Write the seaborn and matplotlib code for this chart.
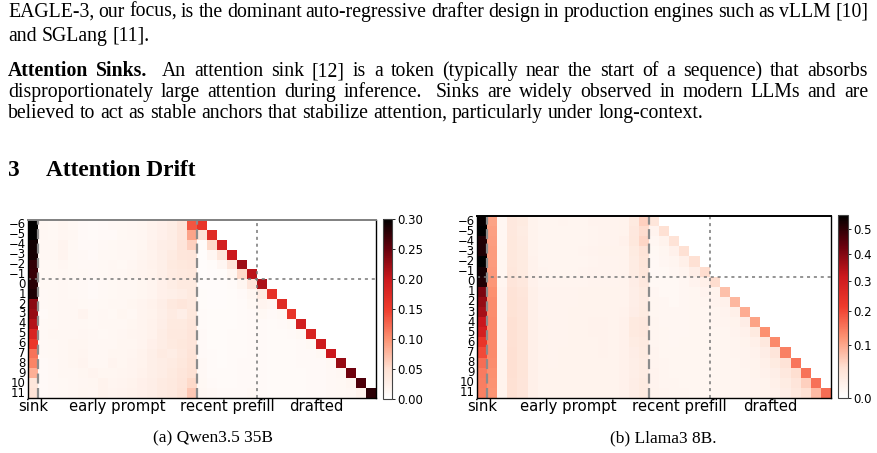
import numpy as np
import pandas as pd
import matplotlib
matplotlib.use("Agg")
import matplotlib.pyplot as plt
import seaborn as sns
from matplotlib.colors import LinearSegmentedColormap, Normalize, PowerNorm

# ---- data -------------------------------------------------------------
# query rows, relative to the first drafted token
row_pos = list(range(-6, 12))
groups = ["sink", "early prompt", "recent prefill", "drafted"]
group_width = [1, 16, 6, 12]

# attention values in units of 1e-3
# Qwen3.5 35B
qwen_sink = [300, 300, 290, 288, 275, 272, 280, 285, 232, 226, 212, 182, 155, 118, 108, 82, 40, 45]
qwen_early = [
    [14, 12, 16, 12, 10, 9, 10, 11, 12, 14, 16, 20, 24, 30, 42, 135],
    [13, 12, 15, 13, 10, 9, 10, 10, 12, 13, 15, 19, 24, 30, 40, 88],
    [14, 13, 18, 12, 10, 10, 11, 12, 13, 14, 16, 22, 28, 30, 42, 60],
    [13, 14, 18, 12, 11, 10, 12, 12, 13, 14, 17, 20, 26, 32, 40, 42],
    [12, 12, 15, 12, 11, 11, 12, 13, 12, 15, 18, 22, 26, 34, 38, 40],
    [12, 12, 14, 12, 12, 11, 12, 13, 14, 16, 18, 20, 26, 32, 36, 38],
    [12, 12, 13, 12, 11, 10, 11, 12, 13, 14, 16, 18, 24, 30, 34, 35],
    [11, 12, 14, 12, 11, 10, 11, 12, 13, 14, 16, 18, 24, 26, 30, 34],
    [11, 12, 14, 13, 12, 11, 12, 13, 14, 16, 18, 22, 28, 36, 40, 36],
    [10, 12, 13, 14, 18, 12, 13, 12, 16, 14, 18, 20, 26, 32, 28, 38],
    [11, 12, 14, 13, 14, 12, 13, 14, 14, 16, 18, 22, 28, 34, 34, 40],
    [11, 13, 14, 14, 15, 13, 12, 14, 15, 17, 18, 22, 30, 36, 36, 42],
    [11, 12, 14, 16, 16, 13, 14, 14, 16, 16, 18, 24, 30, 34, 38, 42],
    [11, 12, 13, 16, 17, 13, 14, 16, 16, 17, 20, 26, 32, 30, 36, 44],
    [10, 11, 13, 16, 18, 14, 14, 18, 16, 18, 20, 26, 30, 32, 38, 46],
    [10, 11, 13, 14, 16, 18, 16, 16, 17, 18, 22, 26, 30, 34, 40, 48],
    [10, 11, 12, 14, 15, 16, 20, 17, 18, 20, 24, 28, 32, 36, 42, 55],
    [10, 11, 12, 13, 16, 15, 20, 18, 19, 22, 24, 28, 32, 36, 44, 66],
]
# recent prefill + drafted, up to the diagonal (causal)
qwen_tail = [
    [160],
    [45, 172],
    [8, 55, 190],
    [5, 15, 40, 200],
    [5, 8, 15, 42, 222],
    [5, 6, 8, 16, 55, 208],
    [6, 6, 7, 9, 16, 40, 215],
    [8, 7, 7, 8, 10, 16, 32, 162],
    [8, 7, 7, 8, 9, 12, 18, 15, 172],
    [9, 8, 8, 8, 9, 10, 12, 10, 12, 160],
    [9, 8, 8, 8, 9, 10, 10, 9, 10, 12, 190],
    [10, 8, 8, 9, 9, 10, 10, 9, 9, 10, 12, 182],
    [10, 8, 8, 9, 9, 10, 10, 9, 9, 9, 10, 12, 195],
    [10, 9, 8, 9, 9, 10, 10, 9, 9, 9, 10, 10, 12, 200],
    [11, 9, 8, 9, 10, 10, 10, 9, 9, 9, 10, 10, 10, 12, 225],
    [11, 9, 9, 9, 10, 10, 10, 9, 9, 9, 9, 10, 10, 11, 14, 245],
    [12, 10, 9, 9, 10, 10, 10, 9, 9, 9, 9, 10, 10, 11, 12, 16, 262],
    [14, 11, 10, 10, 10, 11, 10, 9, 9, 9, 9, 10, 10, 11, 12, 14, 20, 278],
]

# Llama3 8B
llama_sink = [550, 560, 520, 520, 560, 530, 520, 410, 380, 360, 320, 295, 232, 196, 160, 145, 142, 140]
llama_early = [
    [105, 8, 30, 26, 14, 10, 10, 11, 10, 10, 12, 12, 12, 14, 28, 60],
    [108, 8, 30, 24, 14, 10, 10, 10, 10, 10, 11, 12, 12, 14, 30, 50],
    [110, 8, 32, 25, 14, 10, 10, 10, 10, 10, 11, 12, 12, 16, 32, 55],
    [112, 9, 32, 26, 14, 10, 10, 10, 10, 11, 12, 14, 14, 14, 26, 40],
    [112, 9, 32, 26, 15, 10, 10, 10, 10, 10, 11, 12, 12, 14, 24, 38],
    [115, 9, 33, 26, 15, 11, 10, 10, 10, 11, 12, 12, 12, 14, 24, 35],
    [118, 10, 36, 30, 16, 11, 11, 11, 11, 11, 12, 12, 12, 14, 22, 30],
    [125, 12, 40, 34, 18, 12, 12, 12, 12, 13, 14, 14, 13, 14, 20, 26],
    [128, 12, 42, 36, 18, 12, 12, 12, 12, 14, 14, 14, 13, 14, 20, 25],
    [128, 12, 42, 36, 18, 12, 12, 12, 13, 14, 14, 14, 14, 15, 22, 26],
    [130, 12, 44, 38, 18, 13, 12, 12, 14, 14, 15, 15, 14, 16, 28, 30],
    [130, 12, 44, 38, 18, 13, 12, 12, 14, 14, 15, 15, 14, 16, 28, 30],
    [130, 12, 45, 38, 18, 13, 12, 12, 13, 14, 14, 15, 14, 16, 24, 28],
    [130, 13, 46, 38, 18, 13, 12, 13, 13, 14, 14, 15, 14, 16, 22, 26],
    [128, 13, 46, 38, 18, 13, 12, 13, 13, 14, 14, 14, 14, 16, 20, 24],
    [125, 13, 46, 38, 18, 13, 13, 13, 13, 13, 14, 14, 14, 16, 20, 24],
    [122, 13, 44, 36, 18, 13, 13, 13, 13, 13, 14, 14, 14, 16, 22, 26],
    [120, 13, 44, 36, 18, 13, 13, 13, 13, 13, 14, 14, 14, 16, 22, 26],
]
llama_tail = [
    [35],
    [12, 45],
    [8, 14, 40],
    [7, 9, 16, 45],
    [6, 8, 10, 18, 45],
    [6, 7, 8, 11, 20, 50],
    [7, 7, 7, 8, 12, 18, 50],
    [8, 7, 7, 8, 9, 12, 14, 75],
    [9, 8, 7, 8, 9, 10, 12, 16, 85],
    [9, 8, 8, 8, 9, 9, 10, 12, 18, 95],
    [10, 8, 8, 8, 9, 9, 10, 11, 14, 22, 105],
    [10, 9, 8, 8, 9, 9, 9, 10, 12, 16, 28, 125],
    [10, 9, 8, 9, 9, 9, 9, 10, 11, 13, 18, 30, 130],
    [11, 9, 9, 9, 9, 9, 9, 10, 11, 12, 15, 22, 36, 140],
    [11, 10, 9, 9, 9, 9, 9, 10, 10, 12, 14, 18, 26, 40, 150],
    [12, 10, 9, 9, 9, 9, 9, 10, 10, 11, 13, 16, 20, 30, 48, 152],
    [12, 10, 10, 9, 9, 9, 9, 10, 10, 11, 12, 14, 18, 24, 36, 60, 155],
    [13, 11, 10, 10, 9, 9, 9, 10, 10, 11, 12, 14, 16, 22, 30, 45, 80, 160],
]

# page text around the figure
para1 = ["EAGLE-3, our focus, is the dominant auto-regressive drafter design in production engines such as vLLM [10]",
         "and SGLang [11]."]
para2_lead = "Attention Sinks."
para2 = ["An attention sink [12] is a token (typically near the start of a sequence) that absorbs",
         "disproportionately large attention during inference.  Sinks are widely observed in modern LLMs and are",
         "believed to act as stable anchors that stabilize attention, particularly under long-context."]
heading_num, heading = "3", "Attention Drift"
captions = ["(a) Qwen3.5 35B", "(b) Llama3 8B."]


def build(sink, early, tail):
    ncol = sum(group_width)
    m = np.full((len(row_pos), ncol), np.nan)
    m[:, 0] = sink
    m[:, 1:17] = early
    for i, r in enumerate(tail):
        m[i, 17:17 + len(r)] = r
    return pd.DataFrame(m / 1000.0, index=[str(r).replace("-", "\u2212") for r in row_pos])


qwen = build(qwen_sink, qwen_early, qwen_tail)
llama = build(llama_sink, llama_early, llama_tail)

# ---- figure -----------------------------------------------------------
W, H = 877, 453
fig = plt.figure(figsize=(W / 100, H / 100), dpi=100)
serif = ["Liberation Serif", "DejaVu Serif"]


def box(x0, y0, x1, y1):
    return [x0 / W, 1 - y1 / H, (x1 - x0) / W, (y1 - y0) / H]


cmap = LinearSegmentedColormap.from_list(
    "sink_reds", ["#ffffff", "#fee0d2", "#fc9272", "#ef3b2c", "#cb181d", "#67000d", "#000000"])

panels = [
    (qwen, Normalize(0, 0.30), np.arange(0, 0.31, 0.05), "%.2f",
     box(28, 220, 376, 398), box(383, 219, 392, 399), captions[0], 213, "#808080"),
    (llama, PowerNorm(0.72, vmin=0, vmax=0.56), np.arange(0, 0.51, 0.1), "%.1f",
     box(477, 216, 831, 398), box(838, 215, 848, 398), captions[1], 663, "black"),
]

edges = np.cumsum([0] + group_width)
centers = (edges[:-1] + edges[1:]) / 2

for data, norm, ticks, fmt, axpos, cpos, cap, capx, topcol in panels:
    ax = fig.add_axes(axpos)
    cax = fig.add_axes(cpos)
    sns.heatmap(data, mask=data.isna(), cmap=cmap, norm=norm, ax=ax, cbar_ax=cax,
                xticklabels=False, yticklabels=True,
                cbar_kws={"ticks": ticks, "format": fmt})
    ax.set_xticks(centers)
    ax.set_xticklabels(groups, fontsize=10.7, rotation=0)
    ax.tick_params(axis="x", length=0, pad=1)
    ax.tick_params(axis="y", length=0, pad=1.5, labelsize=8.4, rotation=0)
    for sp in ax.spines.values():
        sp.set_visible(True)
        sp.set_linewidth(1.0)
        sp.set_color("black")
    ax.spines["top"].set_color(topcol)
    ax.spines["top"].set_linewidth(1.4)

    # region separators
    for x in (edges[1], edges[2]):
        ax.axvline(x, color="#8c8c8c", lw=1.6, linestyle=(0, (4.5, 2)))
    ax.axvline(edges[3], color="#777777", lw=1.1, linestyle=(0, (2, 2.5)))
    ax.axhline(row_pos.index(0), color="#777777", lw=1.1, linestyle=(0, (2, 2.5)))

    cb = ax.collections[0].colorbar
    cb.outline.set_linewidth(0.8)
    cb.outline.set_edgecolor("#444444")
    cb.ax.tick_params(labelsize=8.5, length=2.5, width=0.6, pad=1.5)

    fig.text(capx / W, 1 - 442 / H, cap, family=serif, fontsize=12.5, ha="center", va="baseline")

# ---- page text --------------------------------------------------------
renderer = fig.canvas.get_renderer()
BODY = 14.2
X0, X1 = 8, 868


def text_line(y, parts, justify):
    # parts: list of (string, weight); words placed one by one,
    # with a wider gap after a sentence end (LaTeX style)
    words = []
    for s, wt in parts:
        for w in s.split():
            words.append((w, wt))
    objs = [fig.text(0, 1 - y / H, w, family=serif, fontsize=BODY, weight=wt, va="baseline")
            for w, wt in words]
    widths = [o.get_window_extent(renderer).width for o in objs]
    weights = [1.8 if w.endswith(".") and not w.endswith("].") else 1.0 for w, _ in words[:-1]]
    space = fig.text(0, 0, "a a", family=serif, fontsize=BODY)
    sw = space.get_window_extent(renderer).width
    space.set_text("aa")
    sw -= space.get_window_extent(renderer).width
    space.remove()
    unit = (X1 - X0 - sum(widths)) / sum(weights) if justify else sw
    x = X0
    for i, (o, w) in enumerate(zip(objs, widths)):
        o.set_x(x / W)
        if i < len(weights):
            x += w + unit * weights[i]


text_line(17, [(para1[0], "normal")], True)
text_line(41, [(para1[1], "normal")], False)
text_line(76, [(para2_lead, "bold"), (para2[0], "normal")], True)
text_line(97, [(para2[1], "normal")], True)
text_line(118, [(para2[2], "normal")], False)

fig.text(8 / W, 1 - 176 / H, heading_num, family=serif, fontsize=16.8, weight="bold", va="baseline")
fig.text(46 / W, 1 - 176 / H, heading, family=serif, fontsize=16.8, weight="bold", va="baseline")

fig.savefig("out.png", dpi=100)
